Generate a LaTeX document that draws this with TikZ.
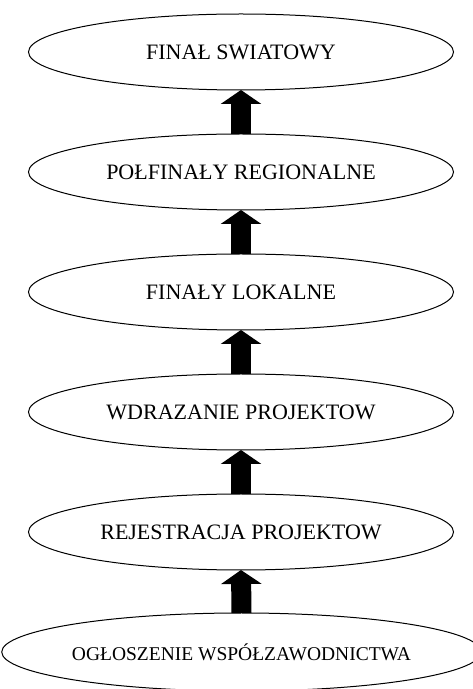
\documentclass[tikz,border=0pt]{standalone}
\usepackage{fontspec}
\setmainfont{Liberation Serif}
\usetikzlibrary{shapes.geometric, arrows.meta}
\tikzset{
  stage/.style={
    ellipse,
    draw=black,
    line width=1pt,
    outer sep=0pt,
    inner sep=0pt,
    minimum width=425pt,
    minimum height=76pt,
    font=\fontsize{22}{26}\selectfont
  },
  wide stage/.style={
    stage,
    minimum width=459pt,
    minimum height=78pt,
    font=\fontsize{19.5}{23}\selectfont
  },
  block arrow/.style={
    -{Triangle[length=14pt, width=40pt]},
    line width=20pt,
    color=black
  }
}

\begin{document}
\begin{tikzpicture}[x=1pt, y=1pt]
    \useasboundingbox (0,0) rectangle (472,689);

    % 1. stages, top to bottom
    \node[stage] (final) at (241, 637) {FINAŁ SWIATOWY};
    \node[stage] (semi) at (241, 517) {POŁFINAŁY REGIONALNE};
    \node[stage] (local) at (241, 397) {FINAŁY LOKALNE};
    \node[stage] (impl) at (241, 277) {WDRAZANIE PROJEKTOW};
    \node[stage] (reg) at (241, 157) {REJESTRACJA PROJEKTOW};
    \node[wide stage] (announce) at (241.5, 37) {OGŁOSZENIE WSPÓŁZAWODNICTWA};

    % 2. arrows pointing up
    \draw[block arrow] (announce.north) -- (reg.south);
    \draw[block arrow] (reg.north) -- (impl.south);
    \draw[block arrow] (impl.north) -- (local.south);
    \draw[block arrow] (local.north) -- (semi.south);
    \draw[block arrow] (semi.north) -- (final.south);

  \end{tikzpicture}
\end{document}
